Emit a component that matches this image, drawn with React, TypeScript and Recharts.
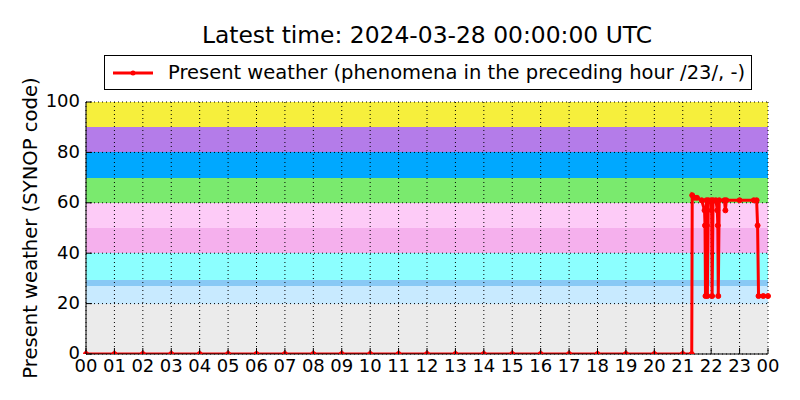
import { ComposedChart, Line, XAxis, YAxis, CartesianGrid, Label } from "recharts";

// observation times (HH:MM, "24:00" = next midnight) and present weather codes
const obsTimes = [
  "00:00", "01:00", "02:00", "03:00", "04:00", "05:00", "06:00", "07:00", "08:00", "09:00",
  "10:00", "11:00", "12:00", "13:00", "14:00", "15:00", "16:00", "17:00", "18:00", "19:00",
  "20:00", "21:00", "21:19", "21:20", "21:25", "21:30", "21:40", "21:46", "21:47", "21:48",
  "21:50", "21:51", "21:52", "21:54", "22:00", "22:01", "22:02", "22:04", "22:10", "22:13",
  "22:14", "22:15", "22:17", "22:28", "22:30", "22:32", "23:00", "23:30", "23:36", "23:38",
  "23:40", "23:50", "24:00",
];
const presentWeather = [
  0, 0, 0, 0, 0, 0, 0, 0, 0, 0,
  0, 0, 0, 0, 0, 0, 0, 0, 0, 0,
  0, 0, 0, 63, 62, 62, 61, 57, 51, 23,
  61, 51, 23, 61, 61, 57, 23, 61, 61, 57,
  51, 23, 61, 61, 57, 61, 61, 61, 61, 51,
  23, 23, 23,
];

const hourTicks = [0, 1, 2, 3, 4, 5, 6, 7, 8, 9, 10, 11, 12, 13, 14, 15, 16, 17, 18, 19, 20, 21, 22, 23, 24];
const codeTicks = [0, 20, 40, 60, 80, 100];

// SYNOP code band edges, top to bottom, and the colour of each band below an edge
const bandEdges = [100, 90, 80, 70, 60, 50, 40, 29.5, 27, 20, 0];
const bandColors = ["#f6ef3c", "#b47ce9", "#00a8ff", "#7aea6e", "#fdcbf7", "#f5b0ed", "#8cffff", "#88c9f5", "#c8eaff", "#ebebeb"];

const toHours = (t: string) => {
  const [h, m] = t.split(":").map(Number);
  return h + m / 60;
};

const data = obsTimes.map((t, i) => ({ t: toHours(t), v: presentWeather[i] }));

const FONT = "'DejaVu Sans', sans-serif";
const fmtHour = (h: number) => String(h % 24).padStart(2, "0");

function BottomTick(props: any) {
  const { x, y, payload } = props;
  return (
    <g>
      <line x1={x} x2={x} y1={y} y2={y - 6} stroke="#000" />
      <text x={x} y={y + 5} dy="0.72em" textAnchor="middle" fontFamily={FONT} fontSize={18} fill="#000">
        {fmtHour(payload.value)}
      </text>
    </g>
  );
}

function TopTick(props: any) {
  const { x, y } = props;
  return <line x1={x} x2={x} y1={y} y2={y + 6} stroke="#000" />;
}

function LeftTick(props: any) {
  const { x, y, payload } = props;
  return (
    <g>
      <line x1={x} x2={x + 6} y1={y} y2={y} stroke="#000" />
      <text x={x - 6} y={y} dy="0.3em" textAnchor="end" fontFamily={FONT} fontSize={18} fill="#000">
        {payload.value}
      </text>
    </g>
  );
}

function RightTick(props: any) {
  const { x, y } = props;
  return <line x1={x} x2={x - 6} y1={y} y2={y} stroke="#000" />;
}

const bandCoords = ({ yAxis, offset }: any) =>
  bandEdges.map((v) =>
    yAxis && typeof yAxis.scale === "function" ? yAxis.scale(v) : offset.top + offset.height * (1 - v / 100)
  );

export default function App() {
  return (
    <div style={{ position: "absolute", left: 0, top: 0, width: 800, height: 400, background: "#fff", fontFamily: FONT }}>
      <div style={{ position: "absolute", left: 86, top: 21, width: 682, textAlign: "center", fontSize: 23.4, lineHeight: "28px" }}>
        Latest time: 2024-03-28 00:00:00 UTC
      </div>
      <div
        style={{
          position: "absolute", left: 104, top: 55, height: 33, border: "1px solid #000",
          display: "flex", alignItems: "center", padding: "0 6px 0 8px", fontSize: 19.5, background: "#fff",
          whiteSpace: "nowrap",
        }}
      >
        <svg width={42} height={10} style={{ marginRight: 13 }}>
          <line x1={0} x2={40} y1={5} y2={5} stroke="#ff0000" strokeWidth={3} />
          <circle cx={20} cy={5} r={2.5} fill="#ff0000" />
        </svg>
        <span>Present weather (phenomena in the preceding hour /23/, -)</span>
      </div>
      <ComposedChart width={800} height={400} data={data} margin={{ top: 102, right: 32, bottom: 16, left: 26 }}>
        <CartesianGrid
          horizontal vertical={false} stroke="none"
          horizontalCoordinatesGenerator={bandCoords}
          horizontalFill={bandColors} fillOpacity={1}
        />
        <CartesianGrid stroke="#000" strokeDasharray="1 3" />
        <XAxis
          dataKey="t" type="number" domain={[0, 24]} ticks={hourTicks} interval={0}
          height={30} tickSize={0} tickMargin={0} tickLine={false} tick={<BottomTick />}
          axisLine={{ stroke: "#000" }}
        />
        <XAxis
          xAxisId="top" orientation="top" dataKey="t" type="number" domain={[0, 24]} ticks={hourTicks} interval={0}
          height={0} tickSize={0} tickMargin={0} tickLine={false} tick={<TopTick />}
          axisLine={{ stroke: "#000" }}
        />
        <YAxis
          type="number" domain={[0, 100]} ticks={codeTicks} interval={0} allowDataOverflow
          width={60} tickSize={0} tickMargin={0} tickLine={false} tick={<LeftTick />}
          axisLine={{ stroke: "#000" }}
        >
          <Label
            content={({ viewBox }: any) => {
              const cx = viewBox.x + 4;
              const cy = viewBox.y + viewBox.height / 2;
              return (
                <text x={cx} y={cy} transform={`rotate(-90 ${cx} ${cy})`} textAnchor="middle" dy="0.36em" fontFamily={FONT} fontSize={19.6} fill="#000">
                  Present weather (SYNOP code)
                </text>
              );
            }}
          />
        </YAxis>
        <YAxis
          yAxisId="right" orientation="right" type="number" domain={[0, 100]} ticks={codeTicks} interval={0}
          width={0} tickSize={0} tickMargin={0} tickLine={false} tick={<RightTick />}
          axisLine={{ stroke: "#000" }}
        />
        <Line
          type="linear" dataKey="v" stroke="#ff0000" strokeWidth={3}
          dot={{ r: 2.5, fill: "#ff0000", stroke: "#ff0000", strokeWidth: 1 }}
          activeDot={false} isAnimationActive={false}
        />
      </ComposedChart>
    </div>
  );
}
